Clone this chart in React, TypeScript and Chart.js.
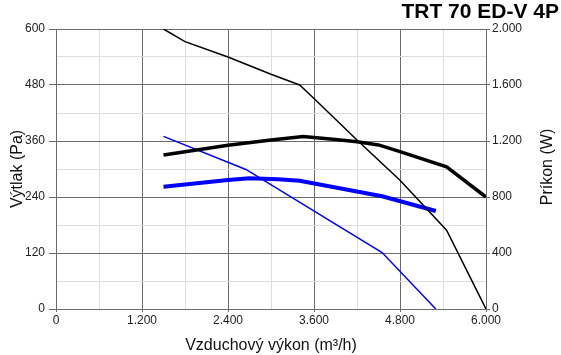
import React, { useEffect, useRef } from 'react';
import { Chart, registerables } from 'chart.js';

Chart.register(...registerables);

const TITLE = 'TRT 70 ED-V 4P';
const X_TITLE = 'Vzduchový výkon (m³/h)';
const Y_LEFT_TITLE = 'Výtlak (Pa)';
const Y_RIGHT_TITLE = 'Príkon (W)';

// Pressure curve, high speed (left axis, Pa)
const pressureHighX = [1500, 1800, 2400, 3000, 3400, 3600, 4200, 4800, 5450, 6000];
const pressureHighY = [600, 573, 540, 503, 480, 451, 362, 276, 169, 0];
// Power curve, high speed (right axis, W)
const powerHighX = [1500, 2400, 3000, 3450, 3900, 4200, 4500, 4800, 5450, 6000];
const powerHighY = [1100, 1170, 1207, 1232, 1210, 1195, 1172, 1124, 1016, 800];
// Pressure curve, low speed (left axis, Pa)
const pressureLowX = [1500, 2650, 4550, 5300];
const pressureLowY = [370, 299, 121, 0];
// Power curve, low speed (right axis, W)
const powerLowX = [1500, 2400, 2700, 3100, 3400, 4550, 5300];
const powerLowY = [874, 921, 934, 927, 916, 805, 700];

const X_MAX = 6000;
const X_STEP = 600;
const X_LABEL_STEP = 1200;
const Y_MAX = 600;
const Y_STEP = 60;
const Y_LABEL_STEP = 120;
const Y2_MAX = 2000;
const Y2_STEP = 400;

const FONT = '"Liberation Sans", Arial, Helvetica, sans-serif';
const MAJOR = '#6b6b6b';
const MINOR = '#dedede';

const fmt = (v: number) => String(v).replace(/\B(?=(\d{3})+(?!\d))/g, '.');
const pts = (xs: number[], ys: number[]) => xs.map((x, i) => ({ x, y: ys[i] }));

const textPlugin = {
  id: 'extraText',
  afterDraw(chart: any) {
    const ctx = chart.ctx;
    ctx.save();
    ctx.fillStyle = '#000';
    ctx.font = `bold 21px ${FONT}`;
    ctx.textAlign = 'right';
    ctx.textBaseline = 'alphabetic';
    ctx.fillText(TITLE, 559, 18);
    ctx.translate(548, 167);
    ctx.rotate(-Math.PI / 2);
    ctx.font = `16px ${FONT}`;
    ctx.fillStyle = '#111';
    ctx.textAlign = 'center';
    ctx.textBaseline = 'middle';
    ctx.fillText(Y_RIGHT_TITLE, 0, 0);
    ctx.restore();
  },
};

export default function App() {
  const ref = useRef<HTMLCanvasElement | null>(null);

  useEffect(() => {
    if (!ref.current) return;
    const chart = new Chart(ref.current, {
      type: 'line',
      data: {
        datasets: [
          {
            data: pts(pressureHighX, pressureHighY),
            yAxisID: 'y',
            borderColor: '#000',
            borderWidth: 1.5,
            pointRadius: 0,
            tension: 0,
          },
          {
            data: pts(powerHighX, powerHighY),
            yAxisID: 'y2',
            borderColor: '#000',
            borderWidth: 3.5,
            pointRadius: 0,
            tension: 0,
          },
          {
            data: pts(pressureLowX, pressureLowY),
            yAxisID: 'y',
            borderColor: '#0000ff',
            borderWidth: 1.5,
            pointRadius: 0,
            tension: 0,
          },
          {
            data: pts(powerLowX, powerLowY),
            yAxisID: 'y2',
            borderColor: '#0000ff',
            borderWidth: 4,
            pointRadius: 0,
            tension: 0,
          },
        ],
      },
      options: {
        animation: false,
        responsive: false,
        layout: { padding: { top: 29, left: 0, right: 0, bottom: 0 } },
        plugins: { legend: { display: false }, tooltip: { enabled: false }, title: { display: false } },
        scales: {
          x: {
            type: 'linear',
            min: 0,
            max: X_MAX,
            afterFit: (s: any) => { s.height = 46; },
            ticks: {
              stepSize: X_STEP,
              autoSkip: false,
              maxRotation: 0,
              padding: 1,
              color: '#222',
              font: { family: FONT, size: 12 },
              callback: (v: any) => (Number(v) % X_LABEL_STEP === 0 ? fmt(Number(v)) : ''),
            },
            grid: {
              color: (c: any) => (c.tick && c.tick.value % X_LABEL_STEP === 0 ? MAJOR : MINOR),
              tickColor: (c: any) => (c.tick && c.tick.value % X_LABEL_STEP === 0 ? MAJOR : 'rgba(0,0,0,0)'),
              tickLength: 3,
            },
            border: { color: MAJOR },
            title: {
              display: true,
              text: X_TITLE,
              color: '#111',
              font: { family: FONT, size: 16 },
              padding: { top: 0, bottom: 0 },
            },
          },
          y: {
            type: 'linear',
            position: 'left',
            min: 0,
            max: Y_MAX,
            afterFit: (s: any) => { s.width = 56; },
            ticks: {
              stepSize: Y_STEP,
              autoSkip: false,
              padding: 4,
              color: '#222',
              font: { family: FONT, size: 12 },
              callback: (v: any) => (Number(v) % Y_LABEL_STEP === 0 ? fmt(Number(v)) : ''),
            },
            grid: {
              color: (c: any) => (c.tick && c.tick.value % Y_LABEL_STEP === 0 ? MAJOR : MINOR),
              tickColor: (c: any) => (c.tick && c.tick.value % Y_LABEL_STEP === 0 ? MAJOR : 'rgba(0,0,0,0)'),
              tickLength: 7,
            },
            border: { color: MAJOR },
            title: {
              display: true,
              text: Y_LEFT_TITLE,
              color: '#111',
              font: { family: FONT, size: 16 },
              padding: { top: 8, bottom: 0 },
            },
          },
          y2: {
            type: 'linear',
            position: 'right',
            min: 0,
            max: Y2_MAX,
            afterFit: (s: any) => { s.width = 75; },
            ticks: {
              stepSize: Y2_STEP,
              autoSkip: false,
              padding: 2,
              color: '#222',
              font: { family: FONT, size: 12 },
              callback: (v: any) => fmt(Number(v)),
            },
            grid: {
              drawOnChartArea: false,
              color: MAJOR,
              tickColor: MAJOR,
              tickLength: 4,
            },
            border: { color: MAJOR },
          },
        },
      },
      plugins: [textPlugin],
    } as any);
    return () => chart.destroy();
  }, []);

  return (
    <div style={{ position: 'absolute', left: 0, top: 0, width: 561, height: 355, background: '#fff' }}>
      <canvas ref={ref} width={561} height={355} style={{ width: 561, height: 355, display: 'block' }} />
    </div>
  );
}
